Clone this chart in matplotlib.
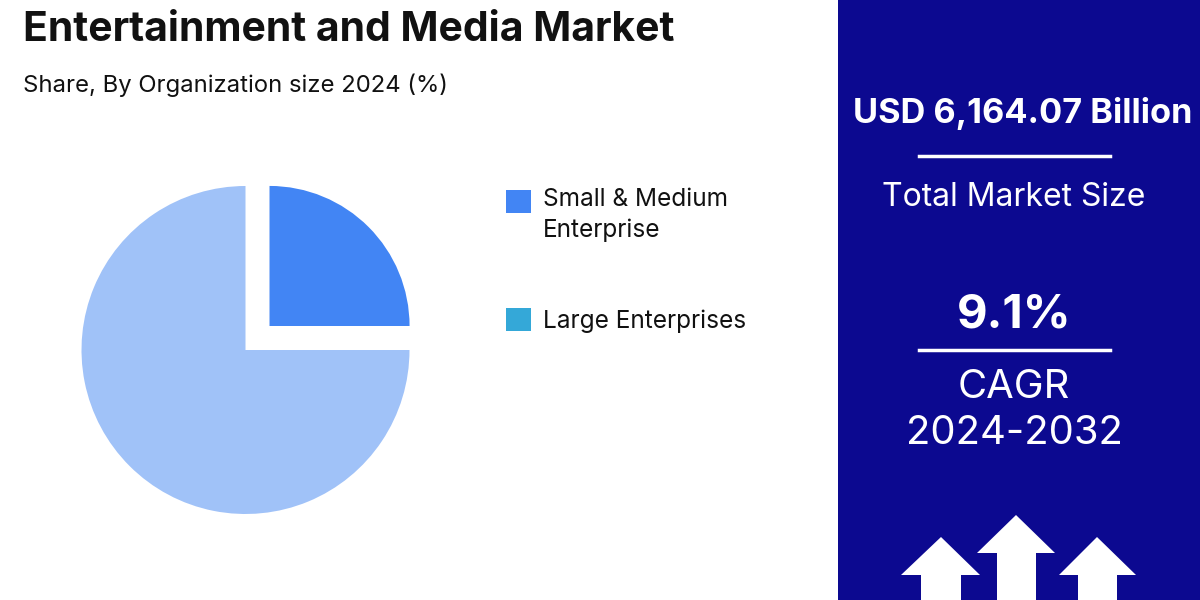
import matplotlib.pyplot as plt
from matplotlib.patches import Rectangle, Polygon
from matplotlib.lines import Line2D

plt.rcParams['font.family'] = ['Inter', 'DejaVu Sans']

# Data
segments = ['Small & Medium', 'Enterprise', 'Large Enterprises']
shares = [25, 75]
pie_colors = ['#4285f4', '#a0c2f8']
legend_colors = ['#4285f4', '#34a8d8']
title = 'Entertainment and Media Market'
subtitle = 'Share, By Organization size 2024 (%)'
market_size = 'USD 6,164.07 Billion'
cagr = '9.1%'
cagr_label = 'CAGR'
cagr_period = '2024-2032'

W, H = 1200, 600
navy = '#0c0990'


def px(x, y):
    # pixel position (from top-left) -> figure fraction
    return x / W, 1 - y / H


fig = plt.figure(figsize=(12, 6), dpi=100)
fig.patch.set_facecolor('white')

# Title block
fig.text(*px(23, 30), title, fontsize=29.4, fontweight='bold', color='#111111', va='center', ha='left')
fig.text(*px(23, 85), subtitle, fontsize=17.2, color='#111111', va='center', ha='left')

# Pie
cx, cy, r = 245.5, 350, 164
ax = fig.add_axes([(cx - r) / W, (H - cy - r) / H, 2 * r / W, 2 * r / H])
wedges, _ = ax.pie(shares, colors=pie_colors, startangle=0, counterclock=True,
                   explode=[0.207, 0], radius=1)
wedges[0].set_radius(0.854)
ax.set_xlim(-1, 1)
ax.set_ylim(-1, 1)
ax.axis('off')

# Legend
leg_sq = [(506, 190), (506, 308)]
for (sx, sy), col in zip(leg_sq, legend_colors):
    x0, y0 = px(sx, sy + 23)
    fig.patches.append(Rectangle((x0, y0), 25 / W, 23 / H, transform=fig.transFigure,
                                 facecolor=col, edgecolor='none'))
fig.text(*px(543, 199), segments[0], fontsize=17.6, color='#111111', va='center', ha='left')
fig.text(*px(543, 230), segments[1], fontsize=17.6, color='#111111', va='center', ha='left')
fig.text(*px(543, 321), segments[2], fontsize=17.6, color='#111111', va='center', ha='left')

# Right panel
x0, y0 = px(838, 600)
fig.patches.append(Rectangle((x0, y0), (W - 838) / W, 1, transform=fig.transFigure,
                             facecolor=navy, edgecolor='none'))

pcx = 1014
fig.text(*px(1023, 114), market_size, fontsize=24.7, fontweight='bold', color='white',
         ha='center', va='center')
fig.add_artist(Line2D([919 / W, 1110 / W], [1 - 156 / H] * 2, color='white', lw=2.5,
                      transform=fig.transFigure))
fig.text(*px(pcx, 197), 'Total Market Size', fontsize=23, color='white', ha='center', va='center')
fig.text(*px(pcx, 315), cagr, fontsize=34, fontweight='bold', color='white', ha='center', va='center')
fig.add_artist(Line2D([919 / W, 1110 / W], [1 - 350 / H] * 2, color='white', lw=2.5,
                      transform=fig.transFigure))
fig.text(*px(pcx, 388), cagr_label, fontsize=28.8, color='white', ha='center', va='center')
fig.text(*px(pcx, 434), cagr_period, fontsize=28.8, color='white', ha='center', va='center')

# Arrows
arrows = [(941, 537, 901, 980, 575, 921, 961),
          (1016, 515, 977, 1055, 553, 997, 1036),
          (1097, 537, 1059, 1136, 575, 1078, 1117)]
for tx, ty, hl, hr, hb, sl, sr in arrows:
    pts = [px(tx, ty), px(hr, hb), px(sr, hb), px(sr, 601), px(sl, 601), px(sl, hb), px(hl, hb)]
    fig.patches.append(Polygon(pts, closed=True, transform=fig.transFigure,
                               facecolor='white', edgecolor='none'))

fig.savefig('out.png', dpi=100)
